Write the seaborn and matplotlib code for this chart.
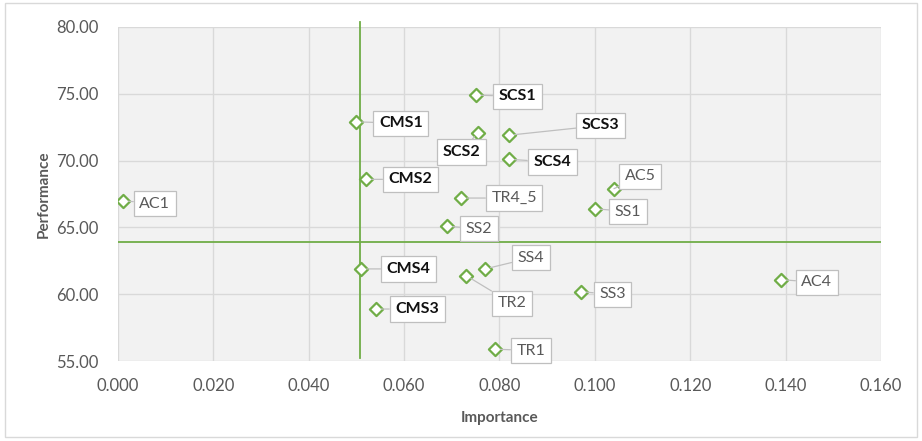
import pandas as pd
import matplotlib.pyplot as plt
import seaborn as sns
from matplotlib.patches import Rectangle

labels = ['AC1', 'CMS1', 'CMS2', 'CMS4', 'CMS3', 'SCS1', 'SCS2', 'SCS3', 'SCS4',
          'TR4_5', 'SS2', 'SS4', 'TR2', 'TR1', 'SS3', 'SS1', 'AC5', 'AC4']
importance = [0.001, 0.050, 0.052, 0.051, 0.054, 0.075, 0.0755, 0.082, 0.082,
              0.072, 0.069, 0.077, 0.073, 0.079, 0.097, 0.100, 0.104, 0.139]
performance = [67.0, 72.9, 68.6, 61.9, 58.9, 74.9, 72.1, 71.9, 70.1,
               67.2, 65.1, 61.9, 61.4, 55.9, 60.2, 66.4, 67.9, 61.1]
bold_labels = ['CMS1', 'CMS2', 'CMS3', 'CMS4', 'SCS1', 'SCS2', 'SCS3', 'SCS4']

imp_cut = 0.0508
perf_cut = 63.9

df = pd.DataFrame({'label': labels, 'Importance': importance, 'Performance': performance})

# label box offsets in points, relative to each point
offsets = {
    'AC1': (23, -2), 'CMS1': (32, -1), 'CMS2': (32, 0), 'CMS4': (34, 0), 'CMS3': (30, 0),
    'SCS1': (30, -1), 'SCS2': (-12, -14), 'SCS3': (66, 7), 'SCS4': (31, -2),
    'TR4_5': (38, 0), 'SS2': (23, -2), 'SS4': (33, 8), 'TR2': (33, -20),
    'TR1': (26, -1), 'SS3': (23, -2), 'SS1': (24, -2), 'AC5': (19, 9), 'AC4': (26, -2),
}

green = '#70AD47'
plt.rcParams['font.family'] = ['Lato', 'DejaVu Sans']

fig = plt.figure(figsize=(9.22, 4.41), dpi=100)
ax = fig.add_axes([0.128, 0.181, 0.8275, 0.758])
ax.set_facecolor('#f2f2f2')

sns.scatterplot(data=df, x='Importance', y='Performance', marker='D', s=45,
                facecolor='white', edgecolor=green, linewidth=1.6, zorder=4, ax=ax)

ax.axhline(perf_cut, color=green, lw=1.3, zorder=3)
ax.axvline(imp_cut, ymin=0.01, ymax=1.015, color=green, lw=1.3, zorder=3, clip_on=False)

for _, r in df.iterrows():
    b = r['label'] in bold_labels
    ax.annotate(r['label'], (r['Importance'], r['Performance']),
                xytext=offsets[r['label']], textcoords='offset points',
                ha='center', va='center', fontsize=11.5,
                fontweight='bold' if b else 'normal',
                color='#111111' if b else '#595959',
                bbox=dict(boxstyle='square,pad=0.35', fc='white', ec='#bfbfbf', lw=0.9),
                arrowprops=dict(arrowstyle='-', color='#bfbfbf', lw=0.9,
                                shrinkA=0, shrinkB=4),
                zorder=5)

ax.set_xlim(0, 0.16)
ax.set_ylim(55, 80)
ax.set_xticks([0.0, 0.02, 0.04, 0.06, 0.08, 0.10, 0.12, 0.14, 0.16])
ax.set_yticks([55, 60, 65, 70, 75, 80])
ax.xaxis.set_major_formatter(plt.FuncFormatter(lambda v, p: f'{v:.3f}'))
ax.yaxis.set_major_formatter(plt.FuncFormatter(lambda v, p: f'{v:.2f}'))
ax.tick_params(axis='x', length=0, labelsize=12, labelcolor='#595959', pad=12)
ax.tick_params(axis='y', length=0, labelsize=12, labelcolor='#595959', pad=14)
ax.grid(True, color='#d9d9d9', lw=1)
ax.set_axisbelow(True)
for s in ax.spines.values():
    s.set_visible(False)

ax.set_xlabel('Importance', fontsize=11, fontweight='bold', color='#595959', labelpad=12)
ax.set_ylabel('Performance', fontsize=11, fontweight='bold', color='#595959', labelpad=4)

fig.patches.append(Rectangle((0.005, 0.008), 0.99, 0.985, transform=fig.transFigure,
                             fill=False, ec='#d9d9d9', lw=1))

fig.savefig('out.png', dpi=100)
